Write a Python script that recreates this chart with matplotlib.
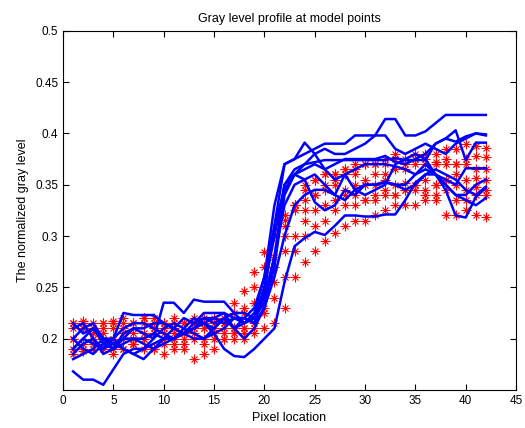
import numpy as np
import matplotlib
matplotlib.use("Agg")
import matplotlib.pyplot as plt

plt.rcParams['font.family'] = ['Liberation Sans', 'DejaVu Sans']

x = np.arange(1, 43)

# model profiles (blue lines)
blue = [
    [0.19, 0.20, 0.195, 0.19, 0.195, 0.20, 0.20, 0.20, 0.205, 0.20, 0.21, 0.205, 0.21, 0.215,
     0.22, 0.215, 0.22, 0.22, 0.215, 0.245, 0.31, 0.37, 0.375, 0.38, 0.385, 0.39, 0.39, 0.39,
     0.398, 0.398, 0.398, 0.414, 0.414, 0.398, 0.398, 0.402, 0.41, 0.418, 0.418, 0.418, 0.418, 0.418],
    [0.21, 0.215, 0.20, 0.19, 0.20, 0.21, 0.215, 0.215, 0.21, 0.205, 0.20, 0.205, 0.21, 0.22,
     0.215, 0.22, 0.21, 0.215, 0.225, 0.26, 0.33, 0.37, 0.375, 0.391, 0.38, 0.365, 0.37, 0.375,
     0.375, 0.375, 0.375, 0.378, 0.372, 0.37, 0.375, 0.38, 0.39, 0.395, 0.392, 0.397, 0.40, 0.399],
    [0.20, 0.21, 0.215, 0.20, 0.19, 0.20, 0.21, 0.205, 0.20, 0.21, 0.215, 0.21, 0.22, 0.215,
     0.21, 0.22, 0.225, 0.215, 0.22, 0.25, 0.30, 0.35, 0.365, 0.37, 0.372, 0.374, 0.374, 0.374,
     0.374, 0.374, 0.374, 0.374, 0.376, 0.374, 0.374, 0.374, 0.39, 0.395, 0.403, 0.374, 0.391, 0.391],
    [0.185, 0.195, 0.20, 0.185, 0.19, 0.195, 0.20, 0.195, 0.19, 0.20, 0.20, 0.205, 0.21, 0.215,
     0.205, 0.21, 0.22, 0.215, 0.22, 0.24, 0.28, 0.33, 0.35, 0.355, 0.36, 0.35, 0.34, 0.36,
     0.365, 0.37, 0.37, 0.37, 0.368, 0.365, 0.36, 0.365, 0.36, 0.355, 0.35, 0.366, 0.366, 0.366],
    [0.168, 0.16, 0.16, 0.155, 0.17, 0.185, 0.19, 0.19, 0.195, 0.20, 0.20, 0.205, 0.20, 0.20,
     0.205, 0.19, 0.183, 0.182, 0.19, 0.20, 0.21, 0.255, 0.29, 0.298, 0.304, 0.301, 0.31, 0.32,
     0.32, 0.319, 0.319, 0.321, 0.321, 0.335, 0.352, 0.36, 0.36, 0.345, 0.32, 0.318, 0.338, 0.347],
    [0.20, 0.19, 0.185, 0.195, 0.20, 0.19, 0.185, 0.18, 0.19, 0.195, 0.20, 0.21, 0.205, 0.20,
     0.21, 0.22, 0.21, 0.22, 0.23, 0.26, 0.31, 0.345, 0.36, 0.355, 0.333, 0.325, 0.33, 0.345,
     0.34, 0.35, 0.35, 0.352, 0.35, 0.35, 0.36, 0.37, 0.36, 0.35, 0.34, 0.335, 0.33, 0.337],
    [0.215, 0.205, 0.21, 0.195, 0.19, 0.205, 0.21, 0.21, 0.215, 0.215, 0.21, 0.205, 0.215, 0.22,
     0.22, 0.225, 0.21, 0.20, 0.21, 0.23, 0.27, 0.34, 0.36, 0.37, 0.38, 0.385, 0.38, 0.38,
     0.385, 0.39, 0.398, 0.398, 0.385, 0.38, 0.385, 0.39, 0.385, 0.38, 0.39, 0.395, 0.40, 0.398],
    [0.19, 0.20, 0.21, 0.20, 0.20, 0.225, 0.223, 0.223, 0.223, 0.215, 0.21, 0.22, 0.215, 0.225,
     0.225, 0.225, 0.22, 0.22, 0.215, 0.23, 0.26, 0.30, 0.33, 0.34, 0.345, 0.345, 0.34, 0.335,
     0.345, 0.35, 0.35, 0.353, 0.35, 0.345, 0.35, 0.36, 0.365, 0.36, 0.355, 0.345, 0.34, 0.348],
    [0.18, 0.185, 0.19, 0.20, 0.195, 0.19, 0.185, 0.19, 0.20, 0.235, 0.235, 0.225, 0.238, 0.236,
     0.236, 0.236, 0.225, 0.225, 0.22, 0.235, 0.28, 0.35, 0.36, 0.365, 0.37, 0.365, 0.355, 0.36,
     0.345, 0.34, 0.345, 0.35, 0.37, 0.375, 0.38, 0.375, 0.36, 0.35, 0.34, 0.34, 0.35, 0.355],
]

# sampled profiles (red asterisks)
red = [
    [0.215, 0.217, 0.215, 0.21, 0.217, 0.215, 0.215, 0.22, 0.215, 0.21, 0.215, 0.215, 0.215, 0.22,
     0.215, 0.22, 0.235, 0.246, 0.265, 0.284, 0.30, 0.316, 0.33, 0.345, 0.355, 0.36, 0.36, 0.365,
     0.37, 0.37, 0.37, 0.375, 0.38, 0.375, 0.38, 0.38, 0.38, 0.385, 0.385, 0.39, 0.388, 0.386],
    [0.21, 0.215, 0.21, 0.215, 0.21, 0.21, 0.205, 0.215, 0.21, 0.215, 0.21, 0.205, 0.215, 0.21,
     0.21, 0.215, 0.21, 0.225, 0.235, 0.25, 0.28, 0.31, 0.33, 0.35, 0.355, 0.36, 0.36, 0.365,
     0.365, 0.37, 0.37, 0.37, 0.375, 0.37, 0.375, 0.375, 0.37, 0.375, 0.37, 0.37, 0.378, 0.377],
    [0.19, 0.195, 0.20, 0.195, 0.20, 0.20, 0.195, 0.20, 0.205, 0.20, 0.205, 0.20, 0.205, 0.21,
     0.205, 0.20, 0.205, 0.21, 0.22, 0.245, 0.27, 0.30, 0.325, 0.335, 0.34, 0.345, 0.35, 0.345,
     0.35, 0.35, 0.35, 0.355, 0.35, 0.352, 0.35, 0.355, 0.35, 0.355, 0.36, 0.355, 0.357, 0.355],
    [0.185, 0.188, 0.19, 0.19, 0.185, 0.19, 0.195, 0.19, 0.19, 0.195, 0.19, 0.195, 0.20, 0.195,
     0.20, 0.205, 0.20, 0.205, 0.21, 0.225, 0.255, 0.285, 0.30, 0.315, 0.325, 0.33, 0.335, 0.34,
     0.34, 0.335, 0.34, 0.345, 0.34, 0.345, 0.35, 0.345, 0.35, 0.355, 0.35, 0.345, 0.348, 0.345],
    [0.20, 0.19, 0.195, 0.20, 0.19, 0.19, 0.195, 0.20, 0.19, 0.185, 0.195, 0.19, 0.18, 0.185,
     0.19, 0.20, 0.21, 0.20, 0.205, 0.21, 0.215, 0.23, 0.26, 0.275, 0.285, 0.295, 0.303, 0.31,
     0.315, 0.315, 0.32, 0.325, 0.33, 0.33, 0.33, 0.335, 0.335, 0.32, 0.32, 0.325, 0.32, 0.319],
    [0.215, 0.21, 0.205, 0.215, 0.215, 0.22, 0.215, 0.22, 0.22, 0.215, 0.22, 0.215, 0.22, 0.215,
     0.22, 0.215, 0.225, 0.23, 0.25, 0.27, 0.30, 0.32, 0.33, 0.325, 0.34, 0.35, 0.355, 0.36,
     0.36, 0.355, 0.36, 0.36, 0.365, 0.365, 0.37, 0.37, 0.372, 0.37, 0.37, 0.375, 0.365, 0.365],
    [0.20, 0.21, 0.20, 0.205, 0.20, 0.205, 0.20, 0.205, 0.21, 0.205, 0.20, 0.205, 0.21, 0.20,
     0.205, 0.21, 0.205, 0.21, 0.215, 0.23, 0.24, 0.26, 0.285, 0.30, 0.31, 0.315, 0.325, 0.33,
     0.33, 0.335, 0.335, 0.34, 0.34, 0.345, 0.345, 0.34, 0.34, 0.345, 0.335, 0.335, 0.34, 0.34],
]

yticks = [0.2, 0.25, 0.3, 0.35, 0.4, 0.45, 0.5]
ytick_labels = ['0.2', '0.25', '0.3', '0.35', '0.4', '0.45', '0.5']

fig = plt.figure(figsize=(5.25, 4.28), dpi=100)
ax = fig.add_axes([0.12, 0.089, 0.863, 0.839])

# matlab style asterisk = plus + cross
for r in red:
    ax.plot(x, r, linestyle='none', marker='+', color='red', markersize=7, markeredgewidth=0.8)
    ax.plot(x, r, linestyle='none', marker='x', color='red', markersize=5, markeredgewidth=0.8)
for b in blue:
    ax.plot(x, b, color='blue', linewidth=1.8)

ax.set_xlim(0, 45)
ax.set_ylim(0.15, 0.5)
ax.set_xticks(range(0, 46, 5))
ax.set_yticks(yticks)
ax.set_yticklabels(ytick_labels)
ax.tick_params(direction='in', top=True, right=True, labelsize=8.5, length=4)
ax.set_xlabel('Pixel location', fontsize=9)
ax.set_ylabel('The normalized gray level', fontsize=9)
ax.set_title('Gray level profile at model points', fontsize=9)

plt.savefig('out.png', dpi=100)
